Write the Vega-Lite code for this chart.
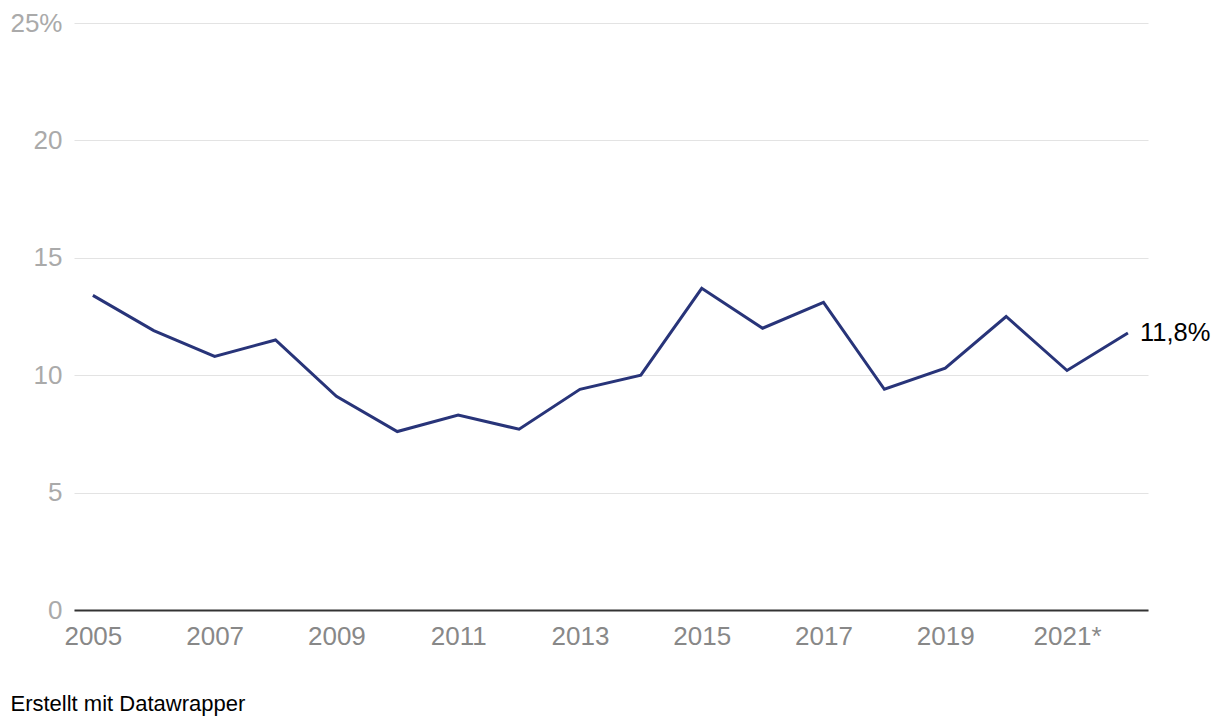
{
  "$schema": "https://vega.github.io/schema/vega-lite/v6.json",
  "width": 1074,
  "height": 587,
  "autosize": {"type": "none"},
  "padding": {"left": 74, "top": 23, "right": 72, "bottom": 116},
  "background": "white",
  "config": {
    "view": {"stroke": null},
    "font": "Liberation Sans",
    "axis": {"labelFont": "Liberation Sans", "titleFont": "Liberation Sans"}
  },
  "data": {
    "values": [
      {"year": 2005, "value": 13.4},
      {"year": 2006, "value": 11.9},
      {"year": 2007, "value": 10.8},
      {"year": 2008, "value": 11.5},
      {"year": 2009, "value": 9.1},
      {"year": 2010, "value": 7.6},
      {"year": 2011, "value": 8.3},
      {"year": 2012, "value": 7.7},
      {"year": 2013, "value": 9.4},
      {"year": 2014, "value": 10.0},
      {"year": 2015, "value": 13.7},
      {"year": 2016, "value": 12.0},
      {"year": 2017, "value": 13.1},
      {"year": 2018, "value": 9.4},
      {"year": 2019, "value": 10.3},
      {"year": 2020, "value": 12.5},
      {"year": 2021, "value": 10.2},
      {"year": 2022, "value": 11.8, "label": "11,8%"}
    ]
  },
  "encoding": {
    "x": {
      "field": "year",
      "type": "quantitative",
      "scale": {"domain": [2004.69, 2022.33], "nice": false, "zero": false},
      "axis": {
        "values": [2005, 2007, 2009, 2011, 2013, 2015, 2017, 2019, 2021],
        "format": "d",
        "labelExpr": "datum.value == 2021 ? '2021*' : datum.label",
        "grid": false,
        "ticks": false,
        "tickSize": 0,
        "domain": true,
        "domainColor": "#333333",
        "domainWidth": 2,
        "labelFontSize": 26,
        "labelColor": "#888888",
        "labelPadding": 13,
        "labelFlush": false,
        "title": "Erstellt mit Datawrapper",
        "titleFontSize": 22,
        "titleFontWeight": "normal",
        "titleColor": "#000000",
        "titleAnchor": "start",
        "titleAlign": "left",
        "titleBaseline": "alphabetic",
        "titleX": -64,
        "titleY": 100
      }
    },
    "y": {
      "field": "value",
      "type": "quantitative",
      "scale": {"domain": [0, 25], "nice": false},
      "axis": {
        "values": [0, 5, 10, 15, 20, 25],
        "labelExpr": "datum.value == 25 ? '25%' : datum.label",
        "grid": true,
        "gridColor": "#e3e3e3",
        "gridWidth": 1,
        "domain": false,
        "ticks": false,
        "tickSize": 0,
        "labelFontSize": 26,
        "labelColor": "#aaaaaa",
        "labelPadding": 12,
        "labelBaseline": "middle",
        "title": null
      }
    }
  },
  "layer": [
    {
      "mark": {"type": "line", "color": "#283479", "strokeWidth": 3, "strokeJoin": "miter"}
    },
    {
      "transform": [{"filter": "isValid(datum.label)"}],
      "mark": {"type": "text", "align": "left", "baseline": "middle", "dx": 12, "fontSize": 25.5, "color": "#000000"},
      "encoding": {"text": {"field": "label"}}
    }
  ]
}
